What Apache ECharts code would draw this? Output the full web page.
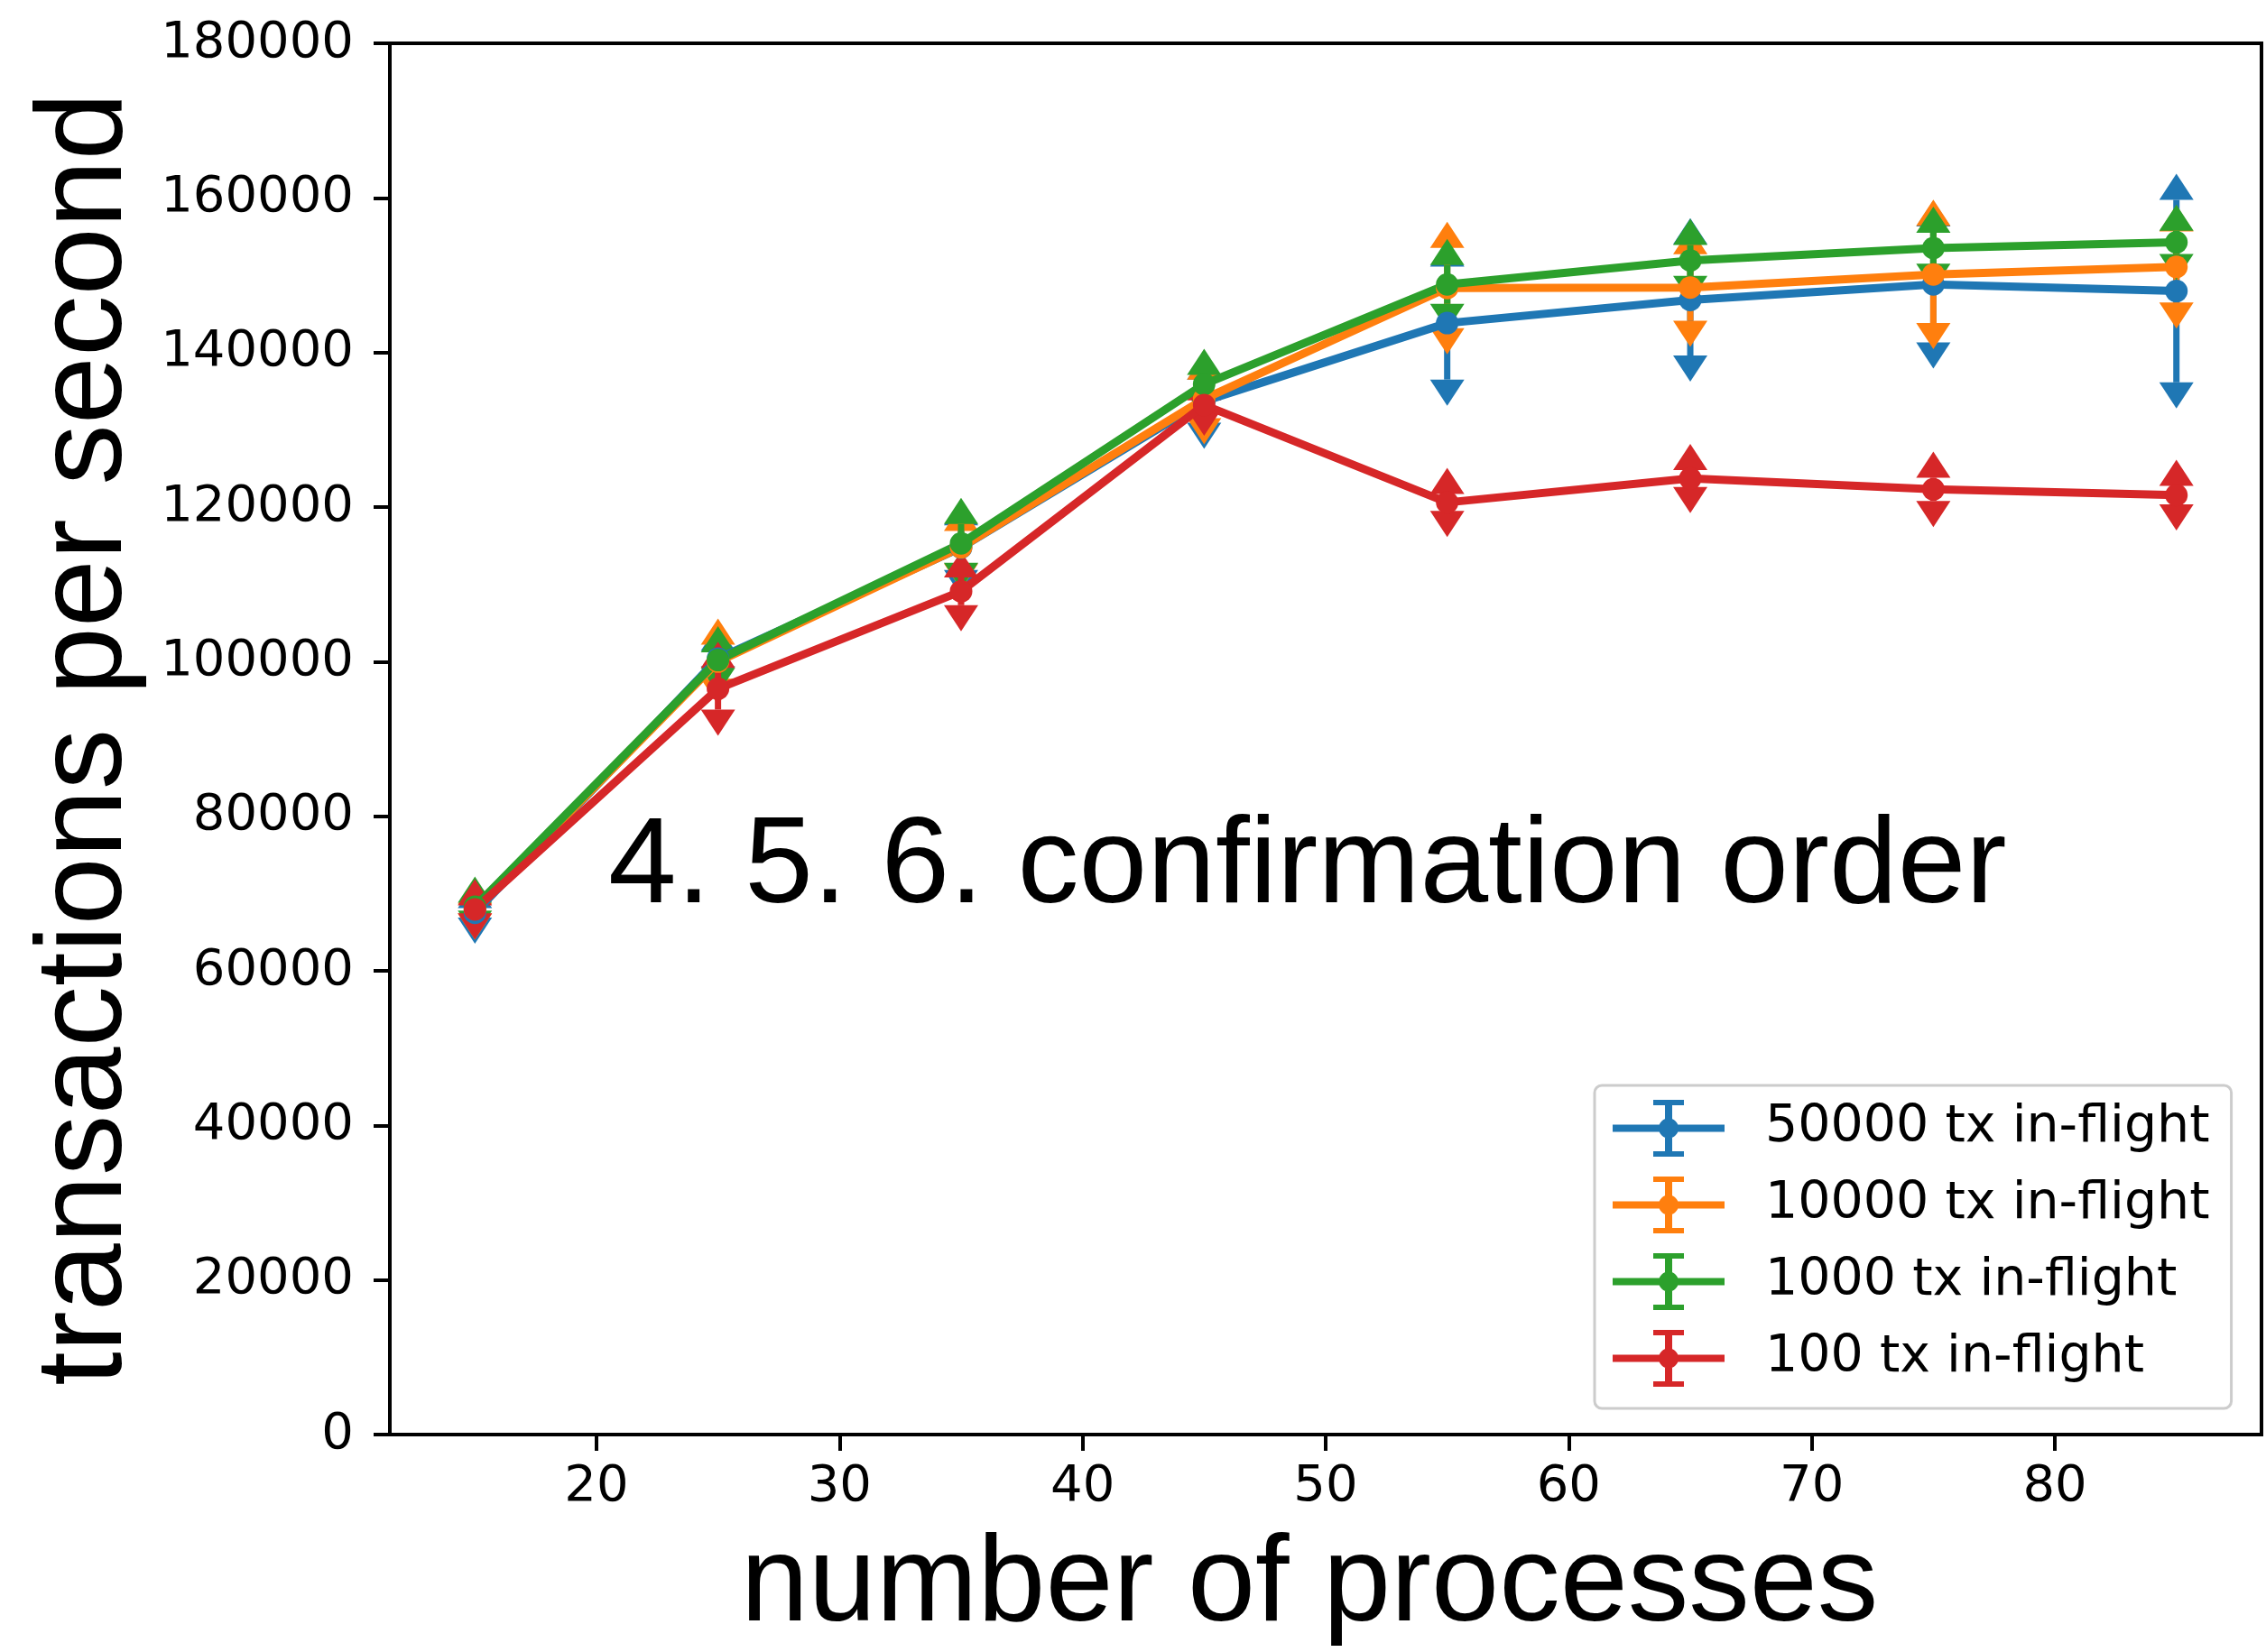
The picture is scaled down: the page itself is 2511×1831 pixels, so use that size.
<!DOCTYPE html>
<html>
<head>
<meta charset="utf-8">
<script src="https://cdn.jsdelivr.net/npm/echarts@6/dist/echarts.min.js"></script>
<style>
  html, body { margin: 0; padding: 0; background: #fff; }
  #chart { width: 2511px; height: 1831px; }
</style>
</head>
<body>
<div id="chart"></div>
<script>
// number of processes
var processes = [15, 25, 35, 45, 55, 65, 75, 85];
var xTicks = [20, 30, 40, 50, 60, 70, 80];

// mean tx/s and error (half width) for each in-flight setting
var tps50000 = [67500, 100400, 114750, 133700, 143800, 146800, 148800, 147950];
var err50000 = [600, 1000, 2900, 2800, 7300, 7200, 7500, 11800];
var tps10000 = [68000, 100000, 114800, 134000, 148340, 148400, 150100, 151070];
var err10000 = [600, 2200, 2100, 2500, 5200, 4300, 6300, 4600];
var tps1000 = [68300, 100200, 115300, 135900, 148800, 151900, 153500, 154250];
var err1000 = [500, 1000, 2500, 1200, 2500, 2000, 2000, 1500];
var tps100 = [67950, 96500, 109100, 133200, 120600, 123700, 122300, 121550];
var err100 = [500, 2700, 1800, 600, 1100, 1100, 1500, 1200];

var names = ['50000 tx in-flight', '10000 tx in-flight', '1000 tx in-flight', '100 tx in-flight'];
var colors = ['#1f77b4', '#ff7f0e', '#2ca02c', '#d62728'];

var chart = echarts.init(document.getElementById('chart'));

// error bar with arrow heads at both ends
function renderErr(params, api) {
  var x = api.value(0);
  var lo = api.coord([x, api.value(1)]);
  var hi = api.coord([x, api.value(2)]);
  var color = api.visual('color');
  var hw = 19, h = 29;
  return {
    type: 'group',
    children: [
      { type: 'line', shape: { x1: lo[0], y1: lo[1], x2: hi[0], y2: hi[1] }, style: { stroke: color, lineWidth: 7 } },
      { type: 'polygon', shape: { points: [[hi[0] - hw, hi[1]], [hi[0] + hw, hi[1]], [hi[0], hi[1] - h]] }, style: { fill: color } },
      { type: 'polygon', shape: { points: [[lo[0] - hw, lo[1]], [lo[0] + hw, lo[1]], [lo[0], lo[1] + h]] }, style: { fill: color } }
    ]
  };
}

function buildSeries(i, means, errs) {
  var line = [];
  var bars = [];
  processes.forEach(function (p, k) {
    line.push([p, means[k]]);
    bars.push([p, means[k] - errs[k], means[k] + errs[k]]);
  });
  return [
    {
      name: 'err' + i,
      type: 'custom',
      renderItem: renderErr,
      itemStyle: { color: colors[i] },
      encode: { x: 0, y: [1, 2] },
      data: bars,
      silent: true
    },
    {
      name: names[i],
      type: 'line',
      data: line,
      symbol: 'circle',
      symbolSize: 25,
      itemStyle: { color: colors[i], borderWidth: 0 },
      lineStyle: { color: colors[i], width: 9 },
      emphasis: { disabled: true }
    }
  ];
}

var series = [].concat(
  buildSeries(0, tps50000, err50000),
  buildSeries(1, tps10000, err10000),
  buildSeries(2, tps1000, err1000),
  buildSeries(3, tps100, err100)
);

var legendIcon = 'path://M0,27.5H124V35.5H0Z M58,0H66V63H58Z M45,0H79V6H45Z M45,57H79V63H45Z ' +
  'M51,31.5A11,11 0 1,1 73,31.5A11,11 0 1,1 51,31.5Z';

var titleFont = { fontSize: 135, lineHeight: 135, fontFamily: 'Liberation Sans', color: '#000' };

var option = {
  animation: false,
  backgroundColor: '#fff',
  grid: {
    left: 432, top: 48, width: 2074, height: 1542,
    outerBoundsMode: 'none',
    containLabel: false,
    show: true, borderColor: '#000', borderWidth: 4, backgroundColor: 'transparent'
  },
  xAxis: {
    type: 'value',
    min: 11.5,
    max: 88.5,
    name: 'number of processes',
    nameLocation: 'middle',
    nameGap: 101,
    nameTextStyle: Object.assign({ padding: [0, 36, 0, 0] }, titleFont),
    axisLine: { show: true, lineStyle: { color: '#000', width: 4 } },
    axisTick: { show: true, length: 18, lineStyle: { color: '#000', width: 4 }, customValues: xTicks },
    axisLabel: { fontSize: 56, fontFamily: 'DejaVu Sans', color: '#000', margin: 30, customValues: xTicks },
    splitLine: { show: false }
  },
  yAxis: {
    type: 'value',
    min: 0,
    max: 180000,
    interval: 20000,
    name: 'transactions per second',
    nameLocation: 'middle',
    nameGap: 268,
    nameTextStyle: titleFont,
    axisLine: { show: true, lineStyle: { color: '#000', width: 4 } },
    axisTick: { show: true, length: 18, lineStyle: { color: '#000', width: 4 } },
    axisLabel: {
      fontSize: 56, fontFamily: 'DejaVu Sans', color: '#000', margin: 40,
      formatter: function (v) { return String(v); }
    },
    splitLine: { show: false }
  },
  legend: {
    data: names,
    orient: 'vertical',
    left: 1767,
    top: 1203,
    padding: [16, 24, 24, 20],
    itemGap: 22,
    itemWidth: 124,
    itemHeight: 63,
    icon: legendIcon,
    itemStyle: { borderWidth: 0 },
    backgroundColor: 'rgba(255,255,255,0.8)',
    borderColor: '#cccccc',
    borderWidth: 3,
    borderRadius: 8,
    selectedMode: false,
    textStyle: { fontSize: 57, fontFamily: 'DejaVu Sans', color: '#000', padding: [0, 0, 0, 40] }
  },
  graphic: [
    {
      type: 'text',
      x: 674,
      y: 962,
      z: 100,
      style: {
        text: '4. 5. 6. confirmation order',
        fontSize: 136,
        fontFamily: 'Liberation Sans',
        fill: '#000',
        align: 'left',
        verticalAlign: 'middle'
      }
    }
  ],
  series: series
};

chart.setOption(option);
</script>
</body>
</html>
